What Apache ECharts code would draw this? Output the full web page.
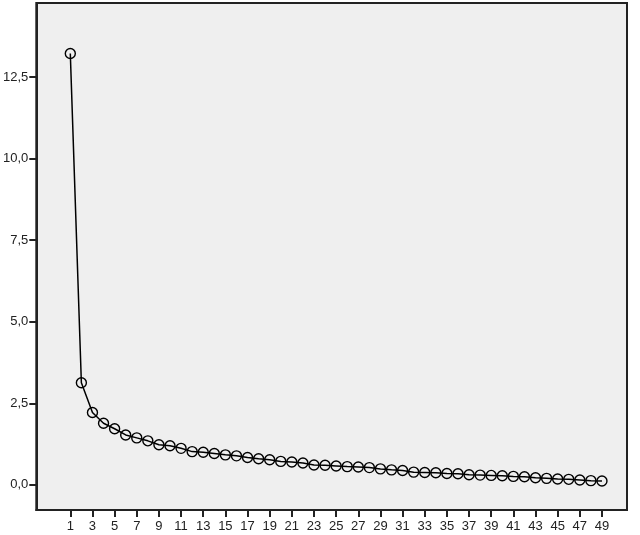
<!DOCTYPE html>
<html>
<head>
<meta charset="utf-8">
<script src="https://cdn.jsdelivr.net/npm/echarts@6/dist/echarts.min.js"></script>
<style>html,body{margin:0;padding:0;background:#fff}#c{width:640px;height:535px}</style>
</head>
<body>
<div id="c"></div>
<script>
var components = [];
for (var i = 1; i <= 49; i++) components.push(i);
var eigenvalues = [13.22, 3.13, 2.22, 1.89, 1.72, 1.53, 1.44, 1.35, 1.23, 1.20,
  1.12, 1.02, 1.00, 0.96, 0.92, 0.89, 0.84, 0.80, 0.77, 0.72,
  0.70, 0.67, 0.61, 0.60, 0.58, 0.56, 0.55, 0.53, 0.49, 0.46,
  0.44, 0.39, 0.38, 0.37, 0.35, 0.34, 0.31, 0.30, 0.29, 0.28,
  0.26, 0.25, 0.22, 0.20, 0.18, 0.17, 0.15, 0.13, 0.12];
var xTickValues = [1,3,5,7,9,11,13,15,17,19,21,23,25,27,29,31,33,35,37,39,41,43,45,47,49];
var yTickValues = [0, 2.5, 5, 7.5, 10, 12.5];

var chart = echarts.init(document.getElementById('c'));
chart.setOption({
  animation: false,
  backgroundColor: '#ffffff',
  grid: {left: 36, right: 13, top: 3, bottom: 25, show: true,
    backgroundColor: '#efefef', borderColor: '#222', borderWidth: 2},
  xAxis: {
    type: 'value', min: -2.07, max: 51.26,
    axisLine: {show: true, onZero: false, lineStyle: {color: '#222', width: 2}},
    axisTick: {show: true, customValues: xTickValues, length: 7, lineStyle: {color: '#222', width: 2}},
    axisLabel: {customValues: xTickValues, color: '#222', fontFamily: 'Liberation Sans, Arial, sans-serif', fontSize: 13, margin: 10},
    splitLine: {show: false}
  },
  yAxis: {
    type: 'value', min: -0.77, max: 14.77,
    axisLine: {show: true, onZero: false, lineStyle: {color: '#222', width: 2}},
    axisTick: {show: true, customValues: yTickValues, length: 7, lineStyle: {color: '#222', width: 2}},
    axisLabel: {customValues: yTickValues, color: '#222', fontFamily: 'Liberation Sans, Arial, sans-serif', fontSize: 13, margin: 8,
      formatter: function (v) { return v.toFixed(1).replace('.', ','); }},
    splitLine: {show: false}
  },
  series: [{
    type: 'line',
    data: components.map(function (c, i) { return [c, eigenvalues[i]]; }),
    symbol: 'circle', symbolSize: 10,
    lineStyle: {color: '#000', width: 1.5},
    itemStyle: {color: 'rgba(0,0,0,0)', borderColor: '#000', borderWidth: 1.4}
  }]
});
</script>
</body>
</html>
